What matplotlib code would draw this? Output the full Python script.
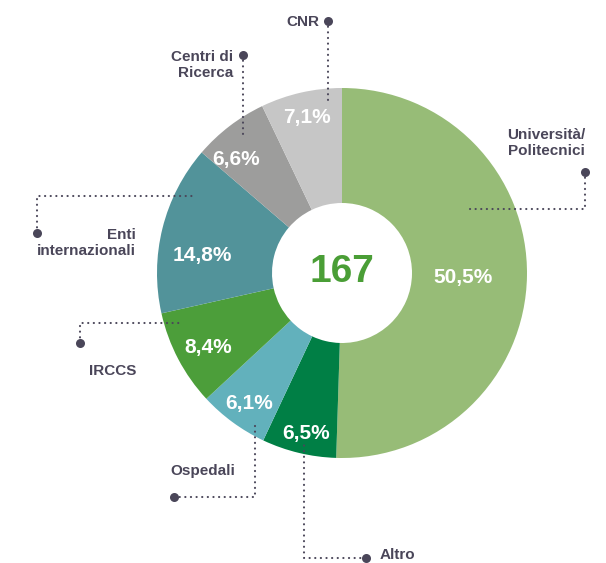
import numpy as np
import matplotlib.pyplot as plt

# data
categories = ['Università/\nPolitecnici', 'Altro', 'Ospedali', 'IRCCS',
              'Enti\ninternazionali', 'Centri di\nRicerca', 'CNR']
shares = [50.5, 6.5, 6.1, 8.4, 14.8, 6.6, 7.1]
total = 167

colors = ['#97bc77', '#007f45', '#62b1bc', '#4c9e3a', '#52939a', '#9d9d9c', '#c6c6c6']
text_col = '#4a4659'

W, H = 606, 563
def Y(y):
    # pixel row -> data y
    return H - y

fig = plt.figure(figsize=(W / 100, H / 100), dpi=100)
ax = fig.add_axes([0, 0, 1, 1])

cx, cy, R = 342, Y(273), 185
ax.pie(shares, colors=colors, startangle=90, counterclock=False,
       center=(cx, cy), radius=R, frame=True,
       wedgeprops=dict(width=R - 70, linewidth=0))
ax.set_xlim(0, W)
ax.set_ylim(0, H)
ax.set_aspect('equal')
ax.axis('off')

ax.text(cx, cy + 1, str(total), ha='center', va='center', fontsize=28,
        fontweight='bold', color='#4a9e36', family='Liberation Sans')

# percent labels (pixel layout)
pct_pos = [(463, 277), (306, 433), (249, 404), (208, 347), (202, 255), (236, 160), (307, 118)]
for v, (px, py) in zip(shares, pct_pos):
    ax.text(px, Y(py), f'{v:.1f}%'.replace('.', ','), ha='center', va='center',
            fontsize=15, fontweight='bold', color='white', family='Liberation Sans')

# category labels with dotted leaders
lab_pos = [(585, 143, 'right'), (380, 555, 'left'), (170, 471, 'left'), (136, 371, 'right'),
           (136, 243, 'right'), (233, 65, 'right'), (319, 22, 'right')]
leaders = [
    [(585, 172), (585, 209), (470, 209)],
    [(366, 558), (304, 558), (304, 443)],
    [(174, 497), (255, 497), (255, 424)],
    [(80, 343), (80, 323), (180, 323)],
    [(37, 233), (37, 196), (192, 196)],
    [(243, 55), (243, 136)],
    [(328, 21), (328, 103)],
]

for name, (lx, ly, ha), pts in zip(categories, lab_pos, leaders):
    ax.text(lx, Y(ly), name, ha=ha, va='center', fontsize=11, fontweight='bold',
            color=text_col, family='Liberation Sans', linespacing=1.1,
            multialignment=ha)
    xs = [p[0] for p in pts]
    ys = [Y(p[1]) for p in pts]
    ax.plot(xs, ys, color=text_col, linewidth=1.5,
            linestyle=(0, (0.1, 2.6)), dash_capstyle='round')
    ax.plot(xs[0], ys[0], 'o', color=text_col, markersize=6.5, markeredgewidth=0)

fig.savefig('out.png', dpi=100, facecolor='white')
